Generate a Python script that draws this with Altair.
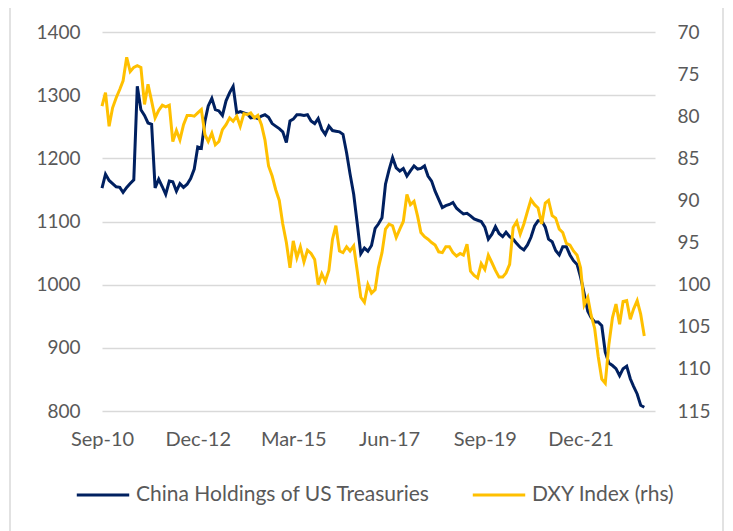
import altair as alt
import pandas as pd

# ---------------- data (monthly, Sep-2010 .. Jun-2023) ----------------
start_month = "2010-09-01"

holdings = [
    1153, 1175, 1165, 1160, 1155, 1154, 1146, 1154, 1160, 1166,
    1314, 1277, 1268, 1256, 1254, 1153, 1167, 1155, 1143, 1164,
    1163, 1148, 1160, 1154, 1159, 1168, 1183, 1218, 1216, 1259,
    1283, 1295, 1277, 1275, 1268, 1291, 1304, 1314, 1272, 1274,
    1272, 1270, 1264, 1265, 1263, 1267, 1269, 1265, 1255, 1251,
    1247, 1242, 1225, 1259, 1262, 1269, 1269, 1268, 1269, 1259,
    1255, 1263, 1246, 1238, 1251, 1244, 1243, 1242, 1238, 1209,
    1175, 1143, 1096, 1049, 1058, 1053, 1062, 1089, 1096, 1106,
    1159, 1182, 1201, 1185, 1180, 1184, 1172, 1180, 1188, 1183,
    1184, 1188, 1172, 1164, 1148, 1135, 1122, 1125, 1127, 1130,
    1121, 1116, 1112, 1113, 1109, 1104, 1102, 1100, 1091, 1072,
    1080, 1092, 1081, 1076, 1083, 1076, 1072, 1065, 1059, 1055,
    1063, 1075, 1093, 1101, 1101, 1091, 1072, 1068, 1054, 1047,
    1060, 1060, 1047, 1038, 1032, 1012, 986, 958, 948, 941,
    941, 935, 893, 876, 872, 867, 856, 867, 871, 851,
    839, 827, 809, 806,
]

dxy = [
    78.8, 77.2, 81.2, 79.0, 77.8, 76.8, 75.8, 73.0, 74.7, 74.2,
    74.0, 74.2, 78.6, 76.2, 78.2, 80.2, 79.3, 78.7, 78.9, 78.7,
    83.0, 81.7, 82.8, 81.0, 79.9, 79.9, 80.0, 79.6, 79.2, 82.2,
    83.0, 82.0, 83.4, 83.0, 81.6, 81.0, 80.2, 80.6, 80.0, 81.2,
    79.7, 79.8, 79.6, 80.2, 79.9, 81.0, 82.8, 85.9, 87.1, 88.7,
    90.0, 92.8, 95.0, 98.0, 94.8, 96.8, 95.5, 97.3, 95.9, 96.3,
    97.0, 100.0, 98.7, 99.6, 98.3, 94.6, 93.0, 96.0, 96.2, 95.5,
    96.0, 95.4, 98.4, 101.5, 102.1, 100.0, 101.0, 100.6, 98.0, 96.2,
    93.4, 92.8, 93.0, 94.4, 93.4, 92.5, 89.3, 90.5, 90.1, 91.9,
    93.8, 94.3, 94.6, 95.0, 95.3, 96.1, 96.2, 95.5, 95.5, 96.2,
    96.6, 96.3, 96.5, 95.2, 98.4, 98.9, 99.2, 97.5, 98.2, 96.5,
    97.4, 98.3, 99.1, 99.1, 98.6, 97.6, 93.2, 92.5, 94.0, 92.8,
    91.3, 89.9, 90.5, 90.9, 92.8, 90.3, 90.0, 91.8, 92.1, 93.4,
    93.8, 95.1, 95.3, 96.0, 96.5, 98.0, 102.4, 101.5, 103.6, 105.2,
    108.5, 111.2, 111.7, 107.1, 103.9, 102.3, 104.7, 102.0, 101.9, 104.1,
    102.9, 101.9, 103.5, 106.1,
]

series_names = ["China Holdings of US Treasuries", "DXY Index (rhs)"]
series_colors = ["#002060", "#FFC000"]

x_tick_months = [(2010, 9), (2012, 12), (2015, 3), (2017, 6), (2019, 9), (2021, 12)]
x_domain_months = [(2010, 9), (2023, 9)]
left_ticks = [800, 900, 1000, 1100, 1200, 1300, 1400]
right_ticks = [70, 75, 80, 85, 90, 95, 100, 105, 110, 115]

# ---------------- build ----------------
dates = pd.date_range(start_month, periods=len(holdings), freq="MS")
df = pd.DataFrame({"date": dates, "holdings": holdings, "dxy": dxy})

FONT = "Lato"
TXT = "#595959"
GRID = "#d9d9d9"

x_enc = alt.X(
    "date:T",
    scale=alt.Scale(domain=[alt.DateTime(year=y, month=m, date=1) for y, m in x_domain_months]),
    axis=alt.Axis(
        values=[alt.DateTime(year=y, month=m, date=1) for y, m in x_tick_months],
        format="%b-%y", title=None, grid=False, domain=False, ticks=False,
        labelPadding=18, labelFontSize=20, labelFont=FONT, labelColor=TXT,
        labelOverlap=False, labelFlush=False, labelBound=False,
    ),
)

color_scale = alt.Scale(domain=series_names, range=series_colors)
legend = alt.Legend(
    orient="none", legendX=-27, legendY=435, direction="horizontal", title=None,
    symbolType="stroke", symbolSize=2750, symbolStrokeWidth=3,
    labelFontSize=21, labelFont=FONT, labelColor=TXT, labelOffset=5,
    labelLimit=500, columnPadding=36,
)

base = alt.Chart(df)

left_line = base.transform_calculate(series=f"'{series_names[0]}'").mark_line(
    strokeWidth=3
).encode(
    x=x_enc,
    y=alt.Y(
        "holdings:Q",
        scale=alt.Scale(domain=[left_ticks[0], left_ticks[-1]], nice=False, zero=False),
        axis=alt.Axis(
            values=left_ticks, format="d", title=None, grid=True, gridColor=GRID,
            gridWidth=1.3, domain=False, ticks=False, labelPadding=22,
            labelFontSize=19, labelFont=FONT, labelColor=TXT,
        ),
    ),
    color=alt.Color("series:N", scale=color_scale, legend=legend),
)

right_line = base.transform_calculate(series=f"'{series_names[1]}'").mark_line(
    strokeWidth=3
).encode(
    x=x_enc,
    y=alt.Y(
        "dxy:Q",
        scale=alt.Scale(domain=[right_ticks[0], right_ticks[-1]], reverse=True, nice=False, zero=False),
        axis=alt.Axis(
            orient="right", values=right_ticks, format="d", title=None, grid=False,
            domain=False, ticks=False, labelPadding=22, labelFontSize=19,
            labelFont=FONT, labelColor=TXT,
        ),
    ),
    color=alt.Color("series:N", scale=color_scale, legend=legend),
)

frame = alt.Chart(pd.DataFrame({"k": [0]})).mark_rect(
    fill=None, stroke=GRID, strokeWidth=1.5
).encode(
    x=alt.value(-92), x2=alt.value(621), y=alt.value(-26), y2=alt.value(530)
)

chart = alt.layer(left_line, right_line, frame).resolve_scale(
    y="independent", color="shared"
).properties(
    width=553, height=379,
    autosize=alt.AutoSizeParams(type="none"),
    padding={"left": 94, "top": 24, "right": 70, "bottom": 120},
).configure_view(stroke=None)

chart.save("out.html", embed_options={"renderer": "svg", "actions": False})
